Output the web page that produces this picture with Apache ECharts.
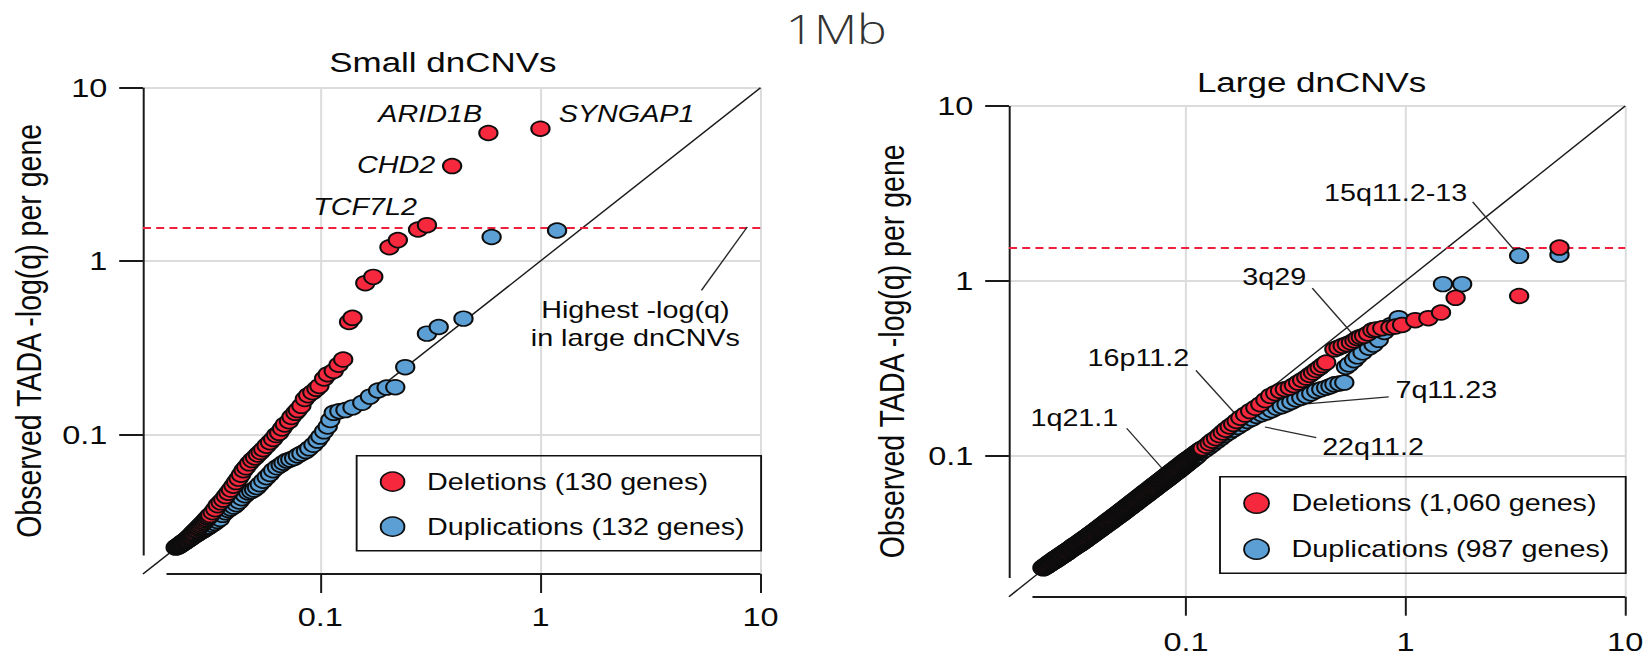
<!DOCTYPE html>
<html>
<head>
<meta charset="utf-8">
<script src="https://cdn.jsdelivr.net/npm/echarts@6/dist/echarts.min.js"></script>
<style>
html, body { margin: 0; padding: 0; background: #fff; overflow: hidden; width: 1647px; height: 658px; }
#chart { width: 1318px; height: 658px; transform: scaleX(1.24962); transform-origin: 0 0; }
</style>
</head>
<body>
<div id="chart"></div>
<script>
// ---------------- data ([expected, observed], ascending) ----------------
const tickValues = [0.1, 1, 10];
const thresholdValue = 1.55;   // highest -log(q) in large dnCNVs

const smallDeletions = [[0.022,0.0222],[0.0222,0.0224],[0.0224,0.0226],[0.0227,0.0228],[0.0229,0.023],[0.0231,0.0233],[0.0234,0.0235],[0.0236,0.0238],[0.0239,0.024],[0.0242,0.0243],[0.0245,0.0246],[0.0248,0.0249],[0.0251,0.0253],[0.0254,0.0256],[0.0257,0.026],[0.026,0.0264],[0.0263,0.0268],[0.0266,0.0272],[0.027,0.0277],[0.0273,0.0281],[0.0277,0.0286],[0.028,0.0291],[0.0284,0.0296],[0.0288,0.0301],[0.0292,0.0307],[0.0296,0.0312],[0.03,0.0318],[0.0304,0.0324],[0.0308,0.033],[0.0312,0.0336],[0.0316,0.0342],[0.0324,0.0355],[0.0333,0.037],[0.0342,0.039],[0.0352,0.0405],[0.0362,0.042],[0.0372,0.044],[0.0382,0.046],[0.0392,0.048],[0.0403,0.0505],[0.0414,0.053],[0.0425,0.0555],[0.0436,0.0585],[0.0448,0.062],[0.046,0.0645],[0.0475,0.068],[0.049,0.071],[0.0505,0.0735],[0.052,0.0765],[0.0535,0.079],[0.055,0.082],[0.057,0.086],[0.059,0.09],[0.061,0.094],[0.063,0.099],[0.065,0.102],[0.067,0.108],[0.069,0.114],[0.072,0.119],[0.074,0.126],[0.077,0.133],[0.079,0.138],[0.082,0.146],[0.085,0.16],[0.088,0.168],[0.092,0.175],[0.096,0.183],[0.099,0.19],[0.104,0.21],[0.108,0.222],[0.115,0.232],[0.121,0.252],[0.127,0.27],[0.135,0.445],[0.14,0.47],[0.16,0.745],[0.174,0.81],[0.206,1.2],[0.225,1.32],[0.278,1.52],[0.305,1.61],[0.397,3.53],[0.58,5.48],[1.0,5.8]];

const smallDuplications = [[0.0225,0.0224],[0.0227,0.0226],[0.023,0.0228],[0.0232,0.023],[0.0235,0.0232],[0.0238,0.0235],[0.0241,0.0237],[0.0244,0.024],[0.0247,0.0242],[0.025,0.0245],[0.0253,0.0247],[0.0256,0.025],[0.026,0.0253],[0.0263,0.0256],[0.0267,0.0259],[0.027,0.0262],[0.0274,0.0264],[0.0277,0.0267],[0.0281,0.027],[0.0285,0.0273],[0.0289,0.0276],[0.0293,0.0279],[0.0297,0.0282],[0.0301,0.0285],[0.0305,0.0288],[0.0309,0.0291],[0.0313,0.0294],[0.0322,0.0301],[0.0331,0.0308],[0.034,0.0316],[0.035,0.0325],[0.036,0.0343],[0.037,0.0355],[0.0381,0.0366],[0.0392,0.0374],[0.0404,0.0383],[0.0416,0.0395],[0.0428,0.041],[0.044,0.0428],[0.0455,0.0445],[0.047,0.0462],[0.0485,0.047],[0.05,0.048],[0.0515,0.0495],[0.053,0.0515],[0.055,0.054],[0.057,0.0565],[0.059,0.059],[0.061,0.062],[0.0635,0.0645],[0.066,0.0665],[0.068,0.0685],[0.0705,0.0705],[0.073,0.0715],[0.076,0.073],[0.079,0.0755],[0.082,0.0775],[0.086,0.08],[0.089,0.083],[0.093,0.087],[0.097,0.092],[0.1,0.097],[0.104,0.104],[0.108,0.111],[0.111,0.121],[0.115,0.133],[0.122,0.136],[0.13,0.138],[0.14,0.143],[0.155,0.152],[0.168,0.165],[0.183,0.179],[0.2,0.186],[0.219,0.187],[0.243,0.244],[0.305,0.381],[0.345,0.416],[0.447,0.465],[0.6,1.375],[1.19,1.5]];

const largeDeletions = [[0.0222,0.0229],[0.0225,0.0232],[0.0227,0.0233],[0.023,0.0236],[0.0233,0.0239],[0.0235,0.0241],[0.0238,0.0244],[0.0241,0.0247],[0.0243,0.0248],[0.0246,0.0251],[0.0249,0.0254],[0.0252,0.0257],[0.0255,0.0259],[0.0258,0.0262],[0.0261,0.0264],[0.0264,0.0267],[0.0267,0.027],[0.027,0.0272],[0.0273,0.0275],[0.0277,0.0278],[0.028,0.0281],[0.0283,0.0283],[0.0287,0.0287],[0.029,0.0289],[0.0294,0.0293],[0.0297,0.0296],[0.0301,0.0299],[0.0304,0.0302],[0.0308,0.0306],[0.0312,0.0309],[0.0315,0.0312],[0.0319,0.0315],[0.0323,0.0318],[0.0327,0.0322],[0.0331,0.0325],[0.0335,0.0329],[0.0339,0.0332],[0.0343,0.0336],[0.0347,0.0339],[0.0351,0.0343],[0.0355,0.0346],[0.036,0.0351],[0.0364,0.0355],[0.0368,0.0358],[0.0373,0.0363],[0.0377,0.0366],[0.0382,0.0371],[0.0386,0.0374],[0.0391,0.0379],[0.0396,0.0384],[0.04,0.0387],[0.0405,0.0392],[0.041,0.0396],[0.0415,0.0401],[0.042,0.0406],[0.0425,0.0411],[0.043,0.0415],[0.0435,0.042],[0.044,0.0424],[0.0446,0.043],[0.0451,0.0434],[0.0456,0.0439],[0.0462,0.0444],[0.0467,0.0449],[0.0473,0.0455],[0.0479,0.046],[0.0484,0.0465],[0.049,0.047],[0.0496,0.0476],[0.0502,0.0481],[0.0508,0.0487],[0.0514,0.0493],[0.052,0.0498],[0.0526,0.0504],[0.0533,0.0511],[0.0539,0.0516],[0.0546,0.0523],[0.0552,0.0528],[0.0559,0.0534],[0.0566,0.0541],[0.0572,0.0547],[0.0579,0.0553],[0.0586,0.056],[0.0593,0.0566],[0.06,0.0573],[0.0608,0.058],[0.0615,0.0587],[0.0622,0.0593],[0.063,0.06],[0.0637,0.0607],[0.0645,0.0615],[0.0653,0.0622],[0.066,0.0628],[0.0668,0.0636],[0.0676,0.0643],[0.0685,0.0651],[0.0693,0.0659],[0.0701,0.0666],[0.071,0.0675],[0.0718,0.0682],[0.0727,0.0691],[0.0736,0.0698],[0.0745,0.0707],[0.0754,0.0716],[0.0763,0.0724],[0.0772,0.0732],[0.0781,0.074],[0.0791,0.075],[0.08,0.0758],[0.081,0.0767],[0.082,0.0777],[0.083,0.0786],[0.084,0.0795],[0.085,0.0804],[0.086,0.0814],[0.087,0.0823],[0.0881,0.0833],[0.0891,0.0842],[0.0902,0.0852],[0.0913,0.0863],[0.0924,0.0873],[0.0935,0.0883],[0.0946,0.0893],[0.0958,0.0904],[0.0969,0.0915],[0.0981,0.0925],[0.0993,0.0936],[0.1005,0.0947],[0.1017,0.0957],[0.103,0.0968],[0.1042,0.0978],[0.1055,0.099],[0.1067,0.1],[0.108,0.101],[0.1093,0.1022],[0.1107,0.1034],[0.112,0.1045],[0.1134,0.1057],[0.1147,0.1068],[0.1161,0.108],[0.1175,0.1092],[0.119,0.1104],[0.124,0.114],[0.128,0.118],[0.132,0.122],[0.137,0.126],[0.142,0.131],[0.147,0.136],[0.152,0.141],[0.158,0.147],[0.164,0.152],[0.17,0.158],[0.177,0.165],[0.186,0.172],[0.196,0.18],[0.207,0.188],[0.218,0.197],[0.23,0.208],[0.242,0.22],[0.255,0.228],[0.268,0.235],[0.282,0.24],[0.297,0.245],[0.31,0.253],[0.324,0.262],[0.338,0.271],[0.353,0.28],[0.366,0.29],[0.379,0.299],[0.392,0.309],[0.406,0.319],[0.42,0.33],[0.435,0.341],[0.474,0.406],[0.495,0.415],[0.517,0.425],[0.54,0.434],[0.564,0.444],[0.585,0.456],[0.604,0.47],[0.625,0.478],[0.647,0.485],[0.675,0.5],[0.706,0.522],[0.735,0.528],[0.783,0.536],[0.853,0.541],[0.9,0.548],[0.964,0.56],[1.107,0.596],[1.27,0.612],[1.45,0.659],[1.69,0.8],[3.29,0.82],[5.02,1.55]];

const largeDuplications = [[0.0224,0.0227],[0.0226,0.0228],[0.0229,0.0231],[0.0232,0.0233],[0.0234,0.0235],[0.0237,0.0237],[0.024,0.024],[0.0242,0.0241],[0.0245,0.0244],[0.0248,0.0246],[0.025,0.0248],[0.0253,0.025],[0.0256,0.0252],[0.0259,0.0255],[0.0262,0.0257],[0.0265,0.026],[0.0268,0.0262],[0.0271,0.0265],[0.0275,0.0268],[0.0278,0.027],[0.0281,0.0273],[0.0285,0.0276],[0.0288,0.0278],[0.0292,0.0282],[0.0295,0.0285],[0.0299,0.0288],[0.0302,0.0291],[0.0306,0.0294],[0.031,0.0297],[0.0313,0.03],[0.0317,0.0303],[0.0321,0.0306],[0.0325,0.0309],[0.0329,0.0312],[0.0333,0.0315],[0.0337,0.0318],[0.0341,0.0322],[0.0345,0.0325],[0.0349,0.0328],[0.0353,0.0332],[0.0357,0.0335],[0.0362,0.034],[0.0366,0.0343],[0.0371,0.0347],[0.0375,0.0351],[0.038,0.0355],[0.0384,0.0358],[0.0389,0.0363],[0.0393,0.0366],[0.0398,0.037],[0.0403,0.0374],[0.0408,0.0379],[0.0413,0.0383],[0.0418,0.0387],[0.0423,0.0391],[0.0428,0.0395],[0.0433,0.04],[0.0438,0.0404],[0.0443,0.0408],[0.0448,0.0412],[0.0454,0.0417],[0.0459,0.0421],[0.0465,0.0426],[0.047,0.0431],[0.0476,0.0436],[0.0482,0.0441],[0.0487,0.0445],[0.0493,0.045],[0.0499,0.0455],[0.0505,0.046],[0.0511,0.0465],[0.0517,0.047],[0.0523,0.0475],[0.053,0.0481],[0.0536,0.0487],[0.0542,0.0492],[0.0549,0.0498],[0.0556,0.0504],[0.0562,0.0509],[0.0569,0.0515],[0.0576,0.0521],[0.0583,0.0527],[0.059,0.0533],[0.0597,0.0539],[0.0604,0.0545],[0.0611,0.0551],[0.0619,0.0558],[0.0626,0.0564],[0.0634,0.0571],[0.0641,0.0577],[0.0649,0.0584],[0.0657,0.0591],[0.0664,0.0597],[0.0672,0.0603],[0.068,0.0611],[0.0689,0.0618],[0.0697,0.0625],[0.0705,0.0632],[0.0714,0.064],[0.0722,0.0646],[0.0731,0.0654],[0.074,0.0662],[0.0749,0.067],[0.0758,0.0677],[0.0767,0.0685],[0.0776,0.0692],[0.0786,0.0701],[0.0795,0.0708],[0.0805,0.0717],[0.0815,0.0725],[0.0825,0.0734],[0.0835,0.0742],[0.0845,0.0751],[0.0855,0.0759],[0.0865,0.0768],[0.0875,0.0776],[0.0886,0.0786],[0.0896,0.0794],[0.0907,0.0804],[0.0918,0.0813],[0.0929,0.0822],[0.094,0.0832],[0.0952,0.0843],[0.0963,0.0852],[0.0975,0.0863],[0.0987,0.0873],[0.0999,0.0884],[0.1011,0.0895],[0.1023,0.0905],[0.1036,0.0917],[0.1048,0.0927],[0.1061,0.0939],[0.1074,0.095],[0.1087,0.0962],[0.11,0.0974],[0.1113,0.0985],[0.113,0.1],[0.117,0.104],[0.122,0.108],[0.127,0.112],[0.132,0.116],[0.138,0.121],[0.144,0.126],[0.15,0.131],[0.157,0.136],[0.164,0.141],[0.172,0.146],[0.181,0.152],[0.19,0.158],[0.2,0.163],[0.21,0.169],[0.221,0.173],[0.233,0.177],[0.246,0.182],[0.259,0.188],[0.273,0.192],[0.287,0.197],[0.302,0.203],[0.318,0.21],[0.335,0.215],[0.353,0.22],[0.372,0.227],[0.392,0.235],[0.413,0.24],[0.435,0.245],[0.455,0.25],[0.474,0.256],[0.5,0.259],[0.526,0.262],[0.535,0.322],[0.553,0.333],[0.583,0.352],[0.605,0.37],[0.637,0.39],[0.681,0.415],[0.715,0.432],[0.755,0.46],[0.8,0.51],[0.86,0.56],[0.93,0.612],[1.48,0.958],[1.81,0.958],[3.29,1.39],[5.02,1.41]];

const seriesNames = {
  smallDel: 'Deletions (130 genes)', smallDup: 'Duplications (132 genes)',
  largeDel: 'Deletions (1,060 genes)', largeDup: 'Duplications (987 genes)'
};
const panelTitles = ['Small dnCNVs', 'Large dnCNVs'];
const yAxisTitle = 'Observed TADA -log(q) per gene';
const headerText = '1Mb';

// annotations: text anchor (data coords) and leader lines (data coords)
const smallAnnotations = [
  { text: 'SYNGAP1', at: [1.211, 7.09], align: 'left', italic: true },
  { text: 'ARID1B', at: [0.543, 7.09], align: 'right', italic: true },
  { text: 'CHD2', at: [0.333, 3.565], align: 'right', italic: true },
  { text: 'TCF7L2', at: [0.275, 2.05], align: 'right', italic: true },
  { text: 'Highest -log(q)\nin large dnCNVs', at: [2.70, 0.431], align: 'center', italic: false }
];
const smallLeaders = [[[8.70, 1.571], [5.39, 0.677]]];
const largeAnnotations = [
  { text: '15q11.2-13', at: [1.91, 3.16], align: 'right' },
  { text: '3q29', at: [0.353, 1.045], align: 'right' },
  { text: '16p11.2', at: [0.1035, 0.361], align: 'right' },
  { text: '1q21.1', at: [0.0492, 0.165], align: 'right' },
  { text: '7q11.23', at: [0.899, 0.237], align: 'left' },
  { text: '22q11.2', at: [0.417, 0.1122], align: 'left' }
];
const largeLeaders = [
  [[2.02, 2.83], [3.10, 1.52]],
  [[0.376, 0.908], [0.574, 0.496]],
  [[0.111, 0.308], [0.171, 0.169]],
  [[0.0537, 0.1436], [0.0785, 0.0837]],
  [[0.838, 0.217], [0.353, 0.198]],
  [[0.392, 0.127], [0.2287, 0.146]]
];

// ---------------- styling ----------------
const FONT = '"Liberation Sans", Arial, Helvetica, sans-serif';
const RED = '#f5283e';
const BLUE = '#5b9fd4';
const INK = '#0a0a0a';
const AXMIN = 0.01563, AXMAX = 10, AXLINE_START = 0.02;

function xAxisDef(gi, margin) {
  return {
    type: 'log', logBase: 10, gridIndex: gi, min: AXMIN, max: AXMAX,
    axisLine: { show: false },
    axisTick: { show: true, customValues: tickValues, length: 19, lineStyle: { color: '#1a1a1a', width: 1.6 } },
    axisLabel: { show: true, customValues: tickValues, margin: margin, fontSize: 26, fontFamily: FONT, color: INK },
    splitLine: { show: false }
  };
}
function yAxisDef(gi, nameGap) {
  return {
    type: 'log', logBase: 10, gridIndex: gi, min: AXMIN, max: AXMAX,
    name: yAxisTitle, nameLocation: 'middle', nameGap: nameGap,
    nameTextStyle: { fontSize: 28.5, fontFamily: FONT, color: INK },
    axisLine: { show: false },
    axisTick: { show: true, customValues: tickValues, length: 19, lineStyle: { color: '#1a1a1a', width: 2 } },
    axisLabel: { show: true, customValues: tickValues, margin: 28.5, fontSize: 26, fontFamily: FONT, color: INK },
    splitLine: { show: false }
  };
}

function frameSeries(gi) {
  const grid = [];
  tickValues.forEach(v => {
    grid.push({ coords: [[AXMIN, v], [AXMAX, v]], lineStyle: { width: 2 } });
    grid.push({ coords: [[v, AXMIN], [v, AXMAX]], lineStyle: { width: 1.6 } });
  });
  return [
    { type: 'lines', coordinateSystem: 'cartesian2d', xAxisIndex: gi, yAxisIndex: gi, clip: false, silent: true, z: 0,
      lineStyle: { color: '#dcdcdc', opacity: 1 }, data: grid, animation: false },
    { type: 'lines', coordinateSystem: 'cartesian2d', xAxisIndex: gi, yAxisIndex: gi, clip: false, silent: true, z: 1,
      lineStyle: { color: '#1a1a1a', opacity: 1 }, animation: false,
      data: [
        { coords: [[AXMIN, AXLINE_START], [AXMIN, AXMAX]], lineStyle: { width: 1.6 } },
        { coords: [[AXLINE_START, AXMIN], [AXMAX, AXMIN]], lineStyle: { width: 2 } },
        { coords: [[AXMIN, AXMIN], [AXMAX, AXMAX]], lineStyle: { width: 1.3 } },
        { coords: [[AXMIN, thresholdValue], [AXMAX, thresholdValue]], lineStyle: { width: 2, color: '#f0203c', type: [6.4, 4.2] } }
      ] }
  ];
}
function leaderSeries(gi, leaders) {
  return { type: 'lines', coordinateSystem: 'cartesian2d', xAxisIndex: gi, yAxisIndex: gi, clip: false, silent: true, z: 1,
    lineStyle: { color: '#2a2a2a', width: 1.2, opacity: 1 }, animation: false,
    data: leaders.map(l => ({ coords: l })) };
}
function annotationSeries(gi, anns) {
  return { type: 'scatter', xAxisIndex: gi, yAxisIndex: gi, silent: true, z: 6, symbolSize: 1,
    itemStyle: { color: 'rgba(255,255,255,0)' }, animation: false,
    data: anns.map(a => ({ value: a.at, label: { show: true, formatter: a.text, align: a.align,
      fontStyle: a.italic ? 'italic' : 'normal' } })),
    label: { position: 'inside', verticalAlign: 'middle', fontSize: 23, fontFamily: FONT, color: INK,
      lineHeight: 28, textBorderWidth: 0, textShadowBlur: 0, opacity: 1 } };
}
function pointSeries(gi, name, data, color) {
  return { type: 'scatter', name: name, xAxisIndex: gi, yAxisIndex: gi, data: data, symbol: 'circle', symbolSize: 14.6,
    itemStyle: { color: color, borderColor: '#0d0d0d', borderWidth: 1.7, opacity: 1 }, z: 3, animation: false,
    emphasis: { disabled: true } };
}

const chart = echarts.init(document.getElementById('chart'), null, { renderer: 'svg' });

const option = {
  animation: false,
  backgroundColor: '#fff',
  textStyle: { fontFamily: FONT },
  grid: [
    { left: 114.4, top: 87.7, width: 494.2, height: 486.3 },
    { left: 807.4, top: 106, width: 498.4, height: 490.7 }
  ],
  xAxis: [xAxisDef(0, 30), xAxisDef(1, 32.5)],
  yAxis: [yAxisDef(0, 77), yAxisDef(1, 79)],
  legend: [
    { data: [seriesNames.smallDel, seriesNames.smallDup], orient: 'vertical', left: 285.4, top: 455.7,
      padding: [14.5, 13, 12.5, 18.5], itemGap: 22, itemWidth: 19, itemHeight: 19, icon: 'circle',
      borderColor: '#111', borderWidth: 1.5, selectedMode: false,
      itemStyle: { borderWidth: 1.5 },
      textStyle: { fontSize: 23, fontFamily: FONT, color: INK, padding: [0, 0, 0, 13], lineHeight: 23 } },
    { data: [seriesNames.largeDel, seriesNames.largeDup], orient: 'vertical', left: 976.3, top: 476.7,
      padding: [15, 13, 12.5, 18.5], itemGap: 23, itemWidth: 20, itemHeight: 20, icon: 'circle',
      borderColor: '#111', borderWidth: 1.5, selectedMode: false,
      itemStyle: { borderWidth: 1.5 },
      textStyle: { fontSize: 23, fontFamily: FONT, color: INK, padding: [0, 0, 0, 13], lineHeight: 23 } }
  ],
  graphic: [
    { type: 'text', x: 628.5, y: 8.5, z: 10,
      style: { text: headerText, fontSize: 40, fontFamily: '"Open Sans", "DejaVu Sans", sans-serif', fontWeight: 300,
        fill: '#333', align: 'left', verticalAlign: 'top' } },
    { type: 'text', x: 354.4, y: 62.2, z: 10,
      style: { text: panelTitles[0], fontSize: 28, fontFamily: FONT, fill: INK, align: 'center', verticalAlign: 'middle' } },
    { type: 'text', x: 1049.6, y: 82, z: 10,
      style: { text: panelTitles[1], fontSize: 28, fontFamily: FONT, fill: INK, align: 'center', verticalAlign: 'middle' } }
  ],
  series: [
    ...frameSeries(0), ...frameSeries(1),
    leaderSeries(0, smallLeaders), leaderSeries(1, largeLeaders),
    pointSeries(0, seriesNames.smallDup, smallDuplications, BLUE),
    pointSeries(0, seriesNames.smallDel, smallDeletions, RED),
    pointSeries(1, seriesNames.largeDup, largeDuplications, BLUE),
    pointSeries(1, seriesNames.largeDel, largeDeletions, RED),
    annotationSeries(0, smallAnnotations), annotationSeries(1, largeAnnotations)
  ]
};
chart.setOption(option);
</script>
</body>
</html>
